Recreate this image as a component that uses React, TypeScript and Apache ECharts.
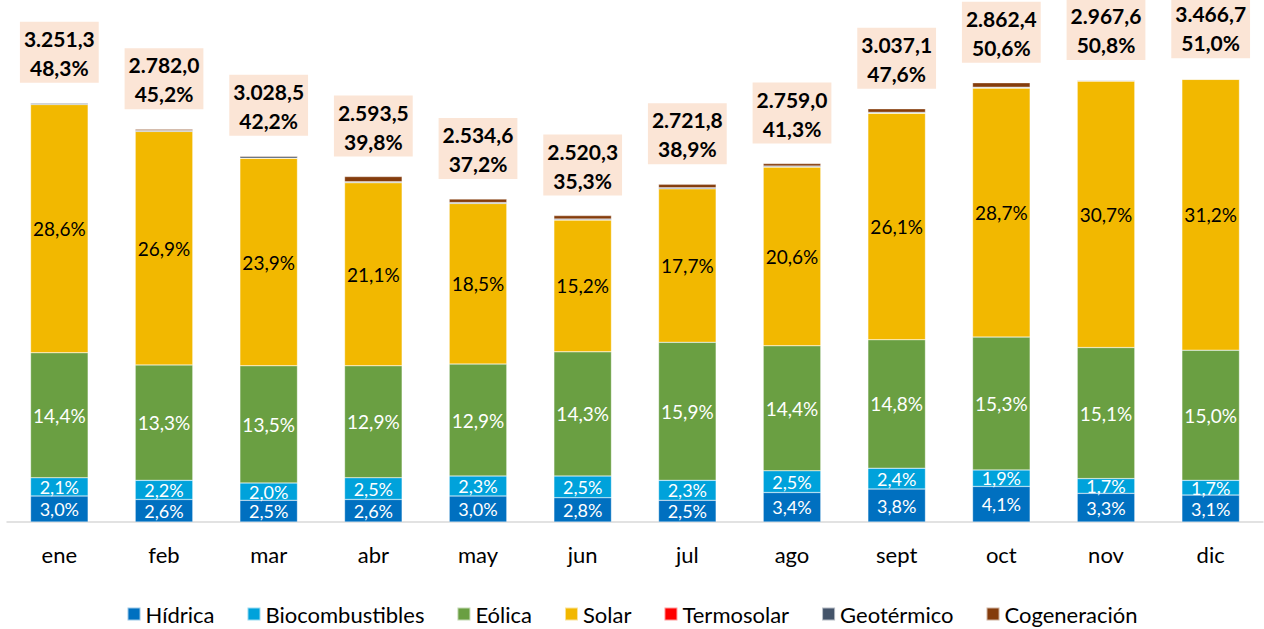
import React, { useEffect, useRef } from "react";
import * as echarts from "echarts";

const months = ["ene", "feb", "mar", "abr", "may", "jun", "jul", "ago", "sept", "oct", "nov", "dic"];
const hidrica = [3.0, 2.6, 2.5, 2.6, 3.0, 2.8, 2.5, 3.4, 3.8, 4.1, 3.3, 3.1];
const biocomb = [2.1, 2.2, 2.0, 2.5, 2.3, 2.5, 2.3, 2.5, 2.4, 1.9, 1.7, 1.7];
const eolica = [14.4, 13.3, 13.5, 12.9, 12.9, 14.3, 15.9, 14.4, 14.8, 15.3, 15.1, 15.0];
const solar = [28.6, 26.9, 23.9, 21.1, 18.5, 15.2, 17.7, 20.6, 26.1, 28.7, 30.7, 31.2];
const termosolar = [0, 0, 0, 0, 0, 0, 0, 0, 0, 0, 0, 0];
const geotermico = [0.15, 0.1, 0.2, 0.1, 0.1, 0.1, 0.1, 0.1, 0.1, 0.1, 0.08, 0.08];
const cogeneracion = [0.05, 0.15, 0.1, 0.6, 0.4, 0.4, 0.4, 0.3, 0.4, 0.5, 0.02, 0.02];
const totalGWh = [3251.3, 2782.0, 3028.5, 2593.5, 2534.6, 2520.3, 2721.8, 2759.0, 3037.1, 2862.4, 2967.6, 3466.7];
const totalPct = [48.3, 45.2, 42.2, 39.8, 37.2, 35.3, 38.9, 41.3, 47.6, 50.6, 50.8, 51.0];

const FONT = "Lato, 'Open Sans', sans-serif";

const fmtPct = (v: number) => v.toFixed(1).replace(".", ",") + "%";
const fmtNum = (v: number) => {
  const [i, d] = v.toFixed(1).split(".");
  return i.replace(/\B(?=(\d{3})+(?!\d))/g, ".") + "," + d;
};

export default function App() {
  const ref = useRef<HTMLDivElement>(null);
  useEffect(() => {
    if (!ref.current) return;
    const chart = echarts.init(ref.current, undefined, { renderer: "svg" });
    const inner = (color: string, size = 19) => ({
      show: true,
      position: "inside" as const,
      color,
      fontFamily: FONT,
      fontSize: size,
      lineHeight: 14,
      formatter: (p: any) => fmtPct(p.value),
    });
    const mk = (name: string, data: number[], color: string, label?: any) => ({
      name,
      type: "bar",
      stack: "t",
      data,
      barWidth: "55%",
      itemStyle: { color, borderColor: "rgba(255,255,255,0.6)", borderWidth: 0.5 },
      label: label || { show: false },
      emphasis: { disabled: true },
    });
    chart.setOption({
      animation: false,
      grid: { left: 7, right: 1, top: 1.2, bottom: 107, containLabel: false },
      legend: {
        top: 598,
        left: "center",
        icon: "rect",
        itemWidth: 13,
        itemHeight: 13,
        itemGap: 32,
        textStyle: { fontFamily: FONT, fontSize: 22, color: "#000" },
        data: ["Hídrica", "Biocombustibles", "Eólica", "Solar", "Termosolar", "Geotérmico", "Cogeneración"],
      },
      xAxis: {
        type: "category",
        data: months,
        axisLine: { lineStyle: { color: "#D9D9D9", width: 1.5 } },
        axisTick: { show: false },
        axisLabel: { fontFamily: FONT, fontSize: 22, color: "#000", margin: 21 },
      },
      yAxis: {
        type: "value",
        min: 0,
        max: 60,
        show: false,
        splitLine: { show: false },
      },
      series: [
        mk("Hídrica", hidrica, "#0070C0", inner("#fff", 18)),
        mk("Biocombustibles", biocomb, "#00A2DB", inner("#fff", 18)),
        mk("Eólica", eolica, "#6A9F42", inner("#fff")),
        mk("Solar", solar, "#F2B800", inner("#000")),
        mk("Termosolar", termosolar, "#FF0000"),
        mk("Geotérmico", geotermico, "#44546A"),
        mk("Cogeneración", cogeneracion, "#843C0C", {
          show: true,
          position: "top",
          distance: 20,
          formatter: (p: any) => fmtNum(totalGWh[p.dataIndex]) + "\n" + fmtPct(totalPct[p.dataIndex]),
          fontFamily: FONT,
          fontWeight: "bold",
          fontSize: 21,
          lineHeight: 29,
          color: "#000",
          backgroundColor: "#FBE5D6",
          padding: [2, 4, 1, 4],
          align: "center",
        }),
      ],
    });
    return () => chart.dispose();
  }, []);
  return (
    <div
      ref={ref}
      style={{ position: "absolute", left: 0, top: 0, width: 1264, height: 629, background: "#fff" }}
    />
  );
}
